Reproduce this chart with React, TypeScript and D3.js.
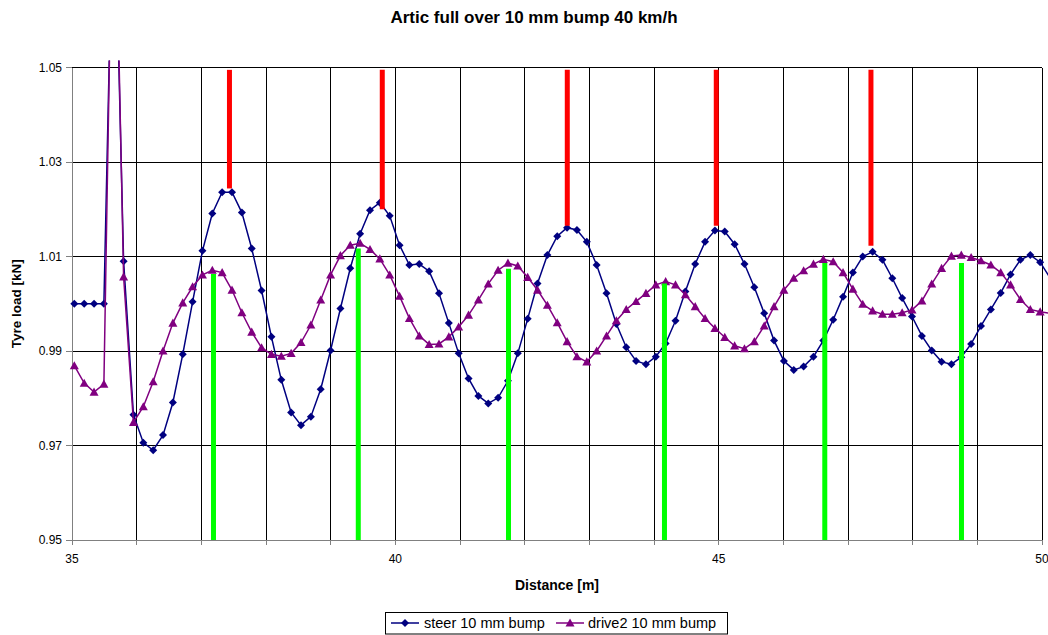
import React from "react";
import * as d3 from "d3";

// ---- data ----
const X0 = 35.036; // distance of first sample [m]
const DX = 0.1524; // sample spacing [m]

const steer = [
  1.0, 1.0, 1.0, 1.0, 1.095,
  1.009, 0.9765, 0.9706, 0.969, 0.9722,
  0.9791, 0.9893, 1.0004, 1.0112, 1.0191,
  1.0236, 1.0236, 1.0193, 1.0117, 1.0028,
  0.993, 0.9839, 0.977, 0.9743, 0.9761,
  0.9819, 0.9901, 0.999, 1.0075, 1.0148,
  1.0198, 1.0214, 1.0186, 1.0124, 1.0082,
  1.0084, 1.0069, 1.0022, 0.9959, 0.9895,
  0.9842, 0.9805, 0.9789, 0.9801, 0.9837,
  0.9895, 0.9968, 1.0043, 1.0103, 1.0143,
  1.0161, 1.0156, 1.0131, 1.0082, 1.0022,
  0.9957, 0.9908, 0.9879, 0.9872, 0.9888,
  0.9916, 0.9964, 1.0026, 1.0084, 1.0131,
  1.0155, 1.0153, 1.0126, 1.0084, 1.0035,
  0.998, 0.9922, 0.9879, 0.986, 0.9867,
  0.9888, 0.9922, 0.9966, 1.0015, 1.0066,
  1.01, 1.011, 1.0093, 1.0054, 1.0012,
  0.9973, 0.9932, 0.9901, 0.9877, 0.9872,
  0.9887, 0.9915, 0.9953, 0.9988, 1.0023,
  1.0062, 1.0093, 1.0103, 1.0088, 1.0055,
];

const drive2 = [
  0.9869, 0.9832, 0.9813, 0.983, 1.105,
  1.0057, 0.9749, 0.9782, 0.9835, 0.99,
  0.9959, 1.0002, 1.0036, 1.0061, 1.0071,
  1.0066, 1.0029, 0.9981, 0.994, 0.9907,
  0.9893, 0.9889, 0.9895, 0.9918, 0.9955,
  1.0008, 1.0061, 1.0102, 1.0124, 1.0128,
  1.0115, 1.0095, 1.0061, 1.0016, 0.9969,
  0.9932, 0.9914, 0.9915, 0.993, 0.9951,
  0.9976, 1.0008, 1.0042, 1.0071, 1.0086,
  1.008, 1.0056, 1.0029, 0.9997, 0.996,
  0.992, 0.9888, 0.9877, 0.99, 0.9932,
  0.9964, 0.9988, 1.0005, 1.0022, 1.004,
  1.0047, 1.004, 1.0019, 0.9994, 0.9969,
  0.9948, 0.9929, 0.9911, 0.9905, 0.992,
  0.9953, 0.9994, 1.0029, 1.0054, 1.007,
  1.0084, 1.0094, 1.0089, 1.0066, 1.0031,
  0.9999, 0.9985, 0.9978, 0.9978, 0.9981,
  0.9987, 1.0006, 1.0042, 1.0075, 1.0101,
  1.0103, 1.0098, 1.0091, 1.0082, 1.0066,
  1.004, 1.0009, 0.9988, 0.9983, 0.998,
];

const distance = steer.map((_, i) => X0 + i * DX);

// red markers above steer peaks
const redX = [37.435, 39.798, 42.659, 44.963, 47.355];
const redLow = [1.0244, 1.02, 1.0165, 1.0165, 1.0123];
const redHigh = [1.0495, 1.0495, 1.0495, 1.0495, 1.0495];
// green markers below drive2 peaks
const greenX = [37.188, 39.427, 41.75, 44.162, 46.641, 48.755];
const greenHigh = [1.0063, 1.0117, 1.0074, 1.0043, 1.0086, 1.0086];
const greenLow = [0.95, 0.95, 0.95, 0.95, 0.95, 0.95];

const yTicks = [0.95, 0.97, 0.99, 1.01, 1.03, 1.05];
const xGrid = d3.range(35, 51, 1);
const xLabels = [35, 40, 45, 50];

const TITLE = "Artic full over 10 mm bump 40 km/h";
const X_TITLE = "Distance [m]";
const Y_TITLE = "Tyre load [kN]";
const SERIES = ["steer 10 mm bump", "drive2 10 mm bump"];

const W = 1048;
const H = 635;
const L = 72,
  R = 1042,
  T = 67.5,
  B = 540;
const FONT = "'Liberation Sans', Arial, Helvetica, sans-serif";
const NAVY = "#000080";
const PURPLE = "#800080";

function diamond(cx: number, cy: number, r: number) {
  return `M${cx},${cy - r}L${cx + r},${cy}L${cx},${cy + r}L${cx - r},${cy}Z`;
}
function triangle(cx: number, cy: number, r: number) {
  return `M${cx},${cy - r}L${cx + r},${cy + r * 0.8}L${cx - r},${cy + r * 0.8}Z`;
}

export default function App() {
  const x = d3.scaleLinear().domain([35, 50]).range([L, R]);
  const y = d3.scaleLinear().domain([0.95, 1.05]).range([B, T]);

  const line = d3
    .line<number>()
    .x((_, i) => x(distance[i]))
    .y((d) => y(d));

  const inside = (i: number, v: number) =>
    distance[i] >= 35 && distance[i] <= 50 && v >= 0.95 && v <= 1.05;

  return (
    <svg
      width={W}
      height={H}
      style={{ position: "absolute", left: 0, top: 0, background: "#fff" }}
      fontFamily={FONT}
    >
      <defs>
        <clipPath id="plotclip">
          <rect x={L - 6} y={T - 7} width={R - L + 12} height={B - T + 14} />
        </clipPath>
      </defs>
      <rect x={0} y={0} width={W} height={H} fill="#fff" />

      {/* gridlines */}
      <g shapeRendering="crispEdges" stroke="#000" strokeWidth={1}>
        {yTicks.map((t) => (
          <line key={"h" + t} x1={L} x2={R} y1={y(t)} y2={y(t)} />
        ))}
        {xGrid.map((t) => (
          <line key={"v" + t} x1={x(t)} x2={x(t)} y1={T} y2={B} />
        ))}
      </g>
      {/* axes */}
      <g shapeRendering="crispEdges" stroke="#808080" strokeWidth={1}>
        <line x1={L} x2={L} y1={T} y2={B} />
        <line x1={L} x2={R} y1={B} y2={B} />
        {yTicks.map((t) => (
          <line key={"yt" + t} x1={L - 6} x2={L} y1={y(t)} y2={y(t)} />
        ))}
        {xGrid.map((t) => (
          <line key={"xt" + t} x1={x(t)} x2={x(t)} y1={B} y2={B + 5} />
        ))}
      </g>

      {/* series */}
      <g clipPath="url(#plotclip)">
        <path d={line(steer) || ""} fill="none" stroke={NAVY} strokeWidth={1.5} />
        {steer.map((v, i) =>
          inside(i, v) ? (
            <path key={"s" + i} d={diamond(x(distance[i]), y(v), 4)} fill={NAVY} />
          ) : null
        )}
        <path d={line(drive2) || ""} fill="none" stroke={PURPLE} strokeWidth={1.5} />
        {drive2.map((v, i) =>
          inside(i, v) ? (
            <path key={"d" + i} d={triangle(x(distance[i]), y(v), 4.5)} fill={PURPLE} />
          ) : null
        )}
      </g>

      {/* red and green bars */}
      {redX.map((d, i) => (
        <line
          key={"r" + i}
          x1={x(d)}
          x2={x(d)}
          y1={y(redHigh[i])}
          y2={y(redLow[i])}
          stroke="#ff0000"
          strokeWidth={5}
        />
      ))}
      {greenX.map((d, i) => (
        <line
          key={"g" + i}
          x1={x(d)}
          x2={x(d)}
          y1={y(greenHigh[i])}
          y2={y(greenLow[i])}
          stroke="#00ff00"
          strokeWidth={5}
        />
      ))}

      {/* tick labels */}
      <g fontSize={12} fill="#000">
        {yTicks.map((t) => (
          <text key={"yl" + t} x={L - 10} y={y(t) + 4} textAnchor="end">
            {d3.format(".2f")(t)}
          </text>
        ))}
        {xLabels.map((t) => (
          <text key={"xl" + t} x={x(t)} y={B + 23} textAnchor="middle">
            {t}
          </text>
        ))}
      </g>

      {/* titles */}
      <text x={534} y={23} textAnchor="middle" fontSize={17} fontWeight="bold">
        {TITLE}
      </text>
      <text x={(L + R) / 2} y={B + 50} textAnchor="middle" fontSize={14} fontWeight="bold">
        {X_TITLE}
      </text>
      <text
        transform={`translate(21,${(T + B) / 2}) rotate(-90)`}
        textAnchor="middle"
        fontSize={13.5}
        fontWeight="bold"
      >
        {Y_TITLE}
      </text>

      {/* legend */}
      <g>
        <rect x={385.5} y={612.5} width={342} height={21.5} fill="#fff" stroke="#000" strokeWidth={1} />
        <line x1={391} x2={419} y1={623} y2={623} stroke={NAVY} strokeWidth={1.5} />
        <path d={diamond(405, 623, 4)} fill={NAVY} />
        <text x={424} y={628} fontSize={14.5}>
          {SERIES[0]}
        </text>
        <line x1={556} x2={584} y1={623} y2={623} stroke={PURPLE} strokeWidth={1.5} />
        <path d={triangle(570, 623, 4.5)} fill={PURPLE} />
        <text x={588} y={628} fontSize={14.5}>
          {SERIES[1]}
        </text>
      </g>
    </svg>
  );
}
